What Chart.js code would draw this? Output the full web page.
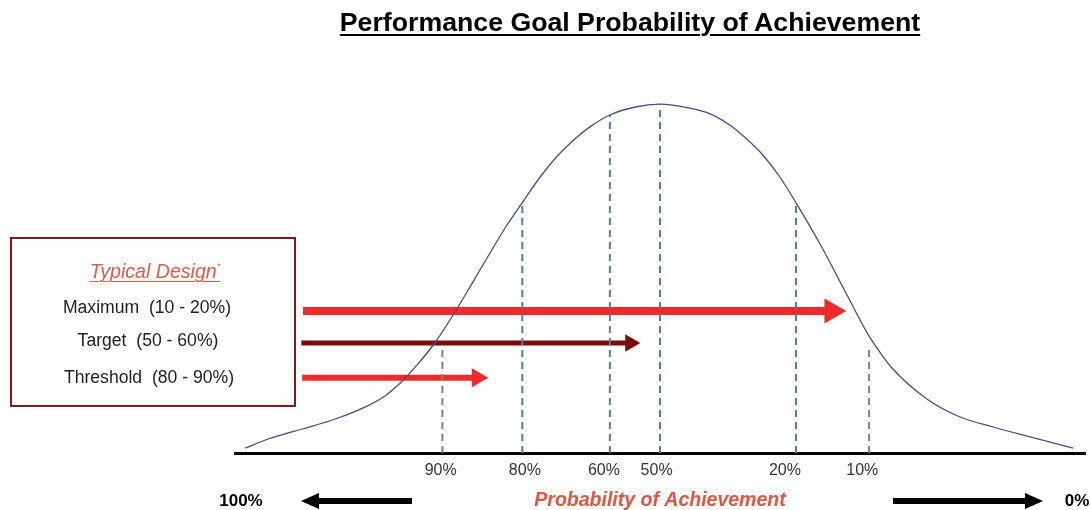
<!DOCTYPE html>
<html>
<head>
<meta charset="utf-8">
<title>Performance Goal Probability of Achievement</title>
<script src="https://cdn.jsdelivr.net/npm/chart.js@4.4.1/dist/chart.umd.min.js"></script>
<style>
  html, body { margin: 0; padding: 0; background: #ffffff; }
  #wrap {
    position: relative; width: 1091px; height: 510px; overflow: hidden;
    font-family: "Liberation Sans", Arial, sans-serif;
  }
  #chart { position: absolute; left: 0; top: 0; }
  #title {
    position: absolute; left: 330px; width: 600px; top: 6px;
    text-align: center; font-weight: bold; font-size: 26.7px; line-height: 32px;
    color: #000; text-decoration: underline; text-decoration-thickness: 2px;
    text-underline-offset: 3px; white-space: nowrap;
  }
  #designBox {
    position: absolute; left: 10px; top: 237px; width: 286px; height: 170px;
    box-sizing: border-box; border: 2.5px solid #7a1d1d; background: #fff;
  }
  .boxLine {
    position: absolute; width: 300px; text-align: center; white-space: pre;
    font-size: 17.6px; line-height: 20px; color: #1e1e1e;
  }
  #boxHead {
    font-style: italic; font-size: 19.6px; line-height: 23px; color: #de5b48;
    text-decoration: underline; text-decoration-thickness: 1px; text-underline-offset: 3px;
  }
  #boxHead sup { font-size: 9px; vertical-align: 9px; text-decoration: none; }
</style>
</head>
<body>
<div id="wrap">
  <canvas id="chart" width="1091" height="510"></canvas>
  <div id="title">Performance Goal Probability of Achievement</div>
  <div id="designBox"></div>
  <div class="boxLine" id="boxHead" style="left:5px; top:255px;">Typical Design<sup>*</sup></div>
  <div class="boxLine" style="left:-3px; top:297px;">Maximum  (10 - 20%)</div>
  <div class="boxLine" style="left:-2px; top:330px;">Target  (50 - 60%)</div>
  <div class="boxLine" style="left:-1px; top:367px;">Threshold  (80 - 90%)</div>
</div>
<script>
// Bell curve outline (position along the scale, relative height)
const curveX = [1.2, 3.9, 7.9, 11.8, 15.6, 17.6, 19.6, 21.5, 23.5, 26.1, 28.0, 30.0, 32.0, 33.8,
  35.9, 37.9, 39.8, 41.8, 44.1, 47.1, 50.0, 53.5, 55.9, 58.2, 60.2, 62.1, 64.1, 66.1, 69.2,
  72.0, 74.6, 76.0, 77.4, 81.4, 85.3, 89.2, 93.2, 98.6];
const curveY = [1.2, 3.5, 6.0, 8.5, 11.8, 14.2, 17.8, 22.2, 27.5, 36.0, 42.8, 50.0, 57.0, 62.6,
  69.0, 74.2, 78.2, 81.6, 84.5, 86.5, 87.2, 86.2, 84.8, 82.0, 78.5, 74.5, 69.0, 62.2, 50.8,
  39.5, 29.2, 24.8, 21.0, 13.5, 9.0, 6.5, 4.2, 1.2];

// Probability markers: dashed guide positions and where each one stops
const markerX = [24.4, 33.8, 44.1, 50.0, 66.0, 74.6];
const markerTop = [27.0, 62.5, 84.5, 87.2, 62.2, 27.0];
const markerColors = ['#7f7f7f', '#4f7eb0', '#4f7eb0', '#4f7eb0', '#4f7eb0', '#7f7f7f'];

// Axis tick labels
const tickPos = [24.2, 34.1, 43.4, 49.6, 64.7, 73.8];
const tickLabels = ['90%', '80%', '60%', '50%', '20%', '10%'];

// Design ranges shown as arrows: start, head position, level
const arrowNames = ['Maximum', 'Target', 'Threshold'];
const arrowStart = [8.0, 7.8, 7.9];
const arrowEnd = [70.2, 46.5, 28.5];
const arrowLevel = [35.5, 27.5, 18.8];
const arrowColors = ['#ef2a2a', '#7a0b0b', '#ef2a2a'];
const arrowWidths = [8, 5, 6];
const arrowHeads = [14.5, 10, 11];

const axisTitle = 'Probability of Achievement';
const endLabels = ['100%', '0%'];

const FONT = '"Liberation Sans", Arial, sans-serif';

const datasets = [];
datasets.push({
  label: 'Distribution',
  data: curveX.map((x, i) => ({ x, y: curveY[i] })),
  borderColor: '#4a4a8c',
  borderWidth: 1.3,
  pointRadius: 0,
  cubicInterpolationMode: 'monotone',
  order: 0
});
markerX.forEach((x, i) => {
  datasets.push({
    label: tickLabels[i],
    data: [{ x, y: 0 }, { x, y: markerTop[i] }],
    borderColor: markerColors[i],
    borderWidth: 2,
    borderDash: [7, 5],
    pointRadius: 0,
    order: 1
  });
});
arrowNames.forEach((name, i) => {
  datasets.push({
    label: name,
    data: [{ x: arrowStart[i], y: arrowLevel[i] }, { x: arrowEnd[i], y: arrowLevel[i] }],
    borderColor: arrowColors[i],
    backgroundColor: arrowColors[i],
    borderWidth: arrowWidths[i],
    borderCapStyle: 'butt',
    pointRadius: [0, arrowHeads[i]],
    pointStyle: 'triangle',
    pointRotation: 90,
    pointBackgroundColor: arrowColors[i],
    pointBorderColor: arrowColors[i],
    pointBorderWidth: 0,
    order: 2
  });
});

// Block arrow drawn from x0 with its tip at x1
function blockArrow(ctx, x0, x1, y, shaft, headLen, headH) {
  const dir = Math.sign(x1 - x0);
  const base = x1 - dir * headLen;
  ctx.beginPath();
  ctx.moveTo(x0, y - shaft / 2);
  ctx.lineTo(base, y - shaft / 2);
  ctx.lineTo(base, y - headH / 2);
  ctx.lineTo(x1, y);
  ctx.lineTo(base, y + headH / 2);
  ctx.lineTo(base, y + shaft / 2);
  ctx.lineTo(x0, y + shaft / 2);
  ctx.closePath();
  ctx.fill();
}

const directionRow = {
  id: 'directionRow',
  afterDraw(chart) {
    const { ctx, chartArea } = chart;
    const y = 501;
    ctx.save();
    ctx.fillStyle = '#000';
    ctx.font = 'bold 17px ' + FONT;
    ctx.textAlign = 'center';
    ctx.textBaseline = 'middle';
    ctx.fillText(endLabels[0], chartArea.left + 6, y);
    ctx.fillText(endLabels[1], chartArea.right - 8, y);
    blockArrow(ctx, chartArea.left + 177, chartArea.left + 66, y, 6, 18, 16);
    blockArrow(ctx, chartArea.right - 192, chartArea.right - 42, y, 6, 18, 16);
    ctx.restore();
  }
};

new Chart(document.getElementById('chart'), {
  type: 'scatter',
  data: { datasets },
  options: {
    responsive: false,
    animation: false,
    devicePixelRatio: 1,
    showLine: true,
    layout: { autoPadding: false, padding: { left: 235, right: 6, top: 53, bottom: 0 } },
    plugins: { legend: { display: false }, tooltip: { enabled: false }, title: { display: false } },
    events: [],
    scales: {
      y: { display: false, min: 0, max: 100 },
      x: {
        type: 'linear', min: 0, max: 100,
        grid: { display: false, drawTicks: false },
        border: { display: true, color: '#000', width: 3 },
        afterBuildTicks(scale) { scale.ticks = tickPos.map(v => ({ value: v })); },
        afterFit(scale) { scale.height = 57; },
        ticks: {
          autoSkip: false, maxRotation: 0, padding: 8, color: '#333',
          font: { size: 16, family: FONT },
          callback: (v, i) => tickLabels[i]
        },
        title: {
          display: true, text: axisTitle, color: '#e2553f',
          font: { size: 19.5, weight: 'bold', style: 'italic', family: FONT },
          padding: { top: 0, bottom: -2 }
        }
      }
    }
  },
  plugins: [directionRow]
});
</script>
</body>
</html>
